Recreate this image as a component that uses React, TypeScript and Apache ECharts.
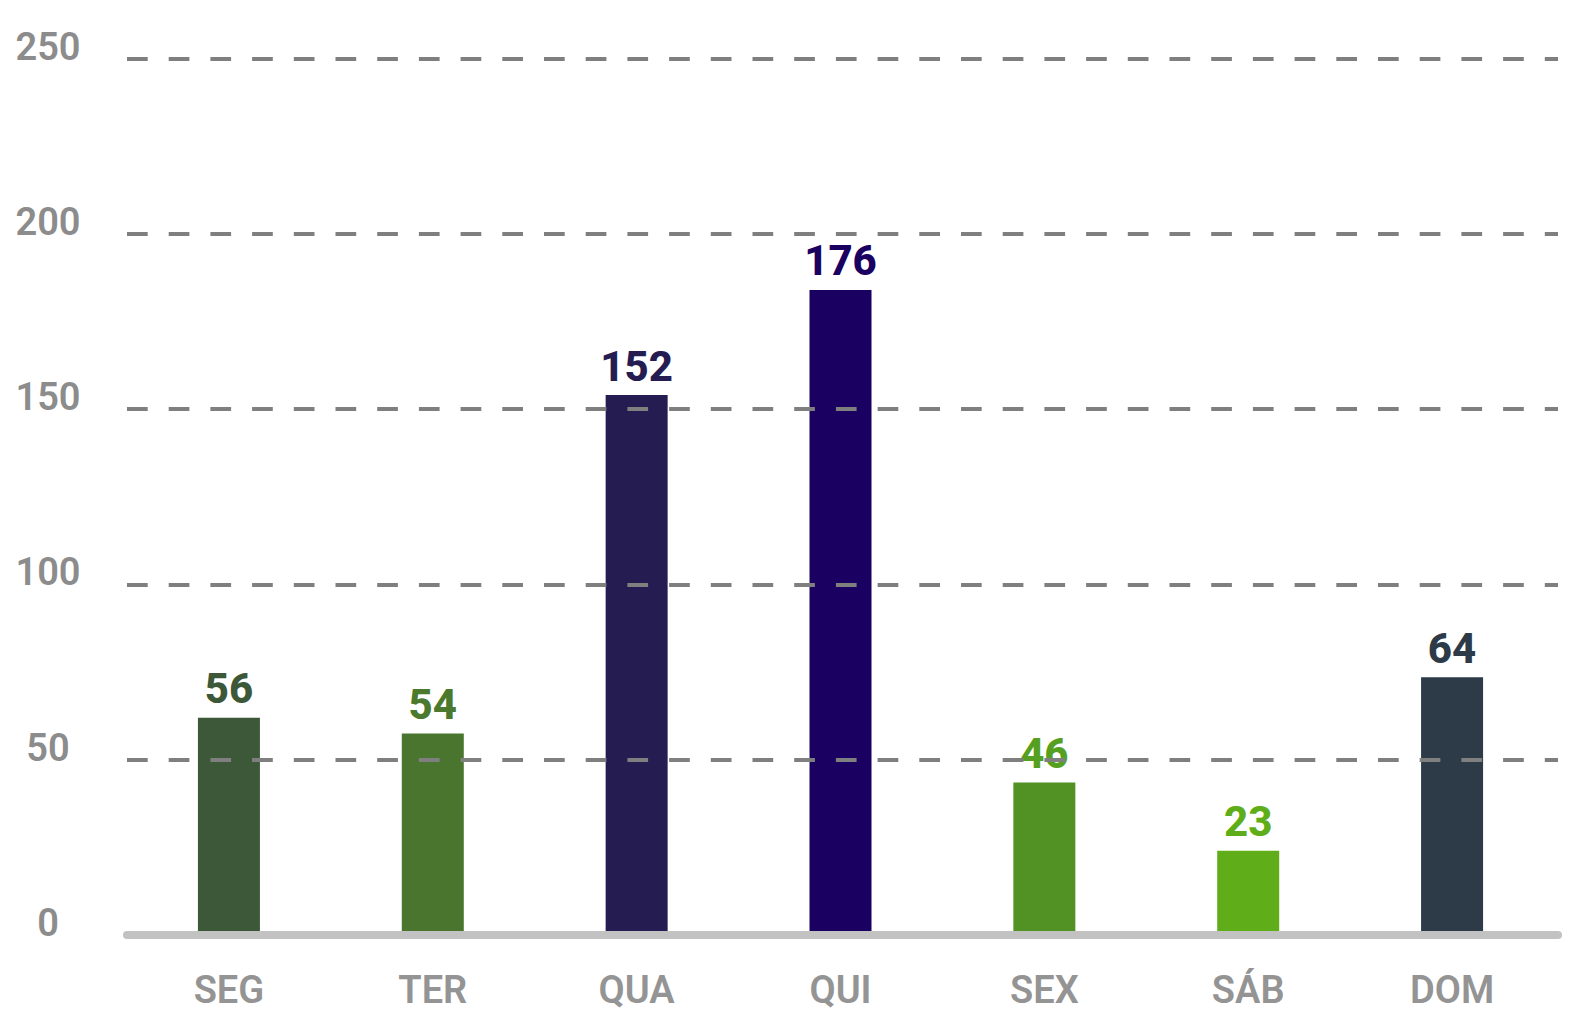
import React, { useEffect, useRef } from "react";
import * as echarts from "echarts";

const categories = ["SEG", "TER", "QUA", "QUI", "SEX", "SÁB", "DOM"];
// bar heights as drawn in the picture (axis units)
const barHeights = [62, 57.5, 154, 184, 43.5, 24, 73.5];
// numbers printed above the bars
const valueLabels = [56, 54, 152, 176, 46, 23, 64];
const barColors = ["#3c5839", "#4a752f", "#251c52", "#1a0060", "#529224", "#5fae19", "#2d3a47"];
const labelColors = ["#3c5839", "#4b7a2e", "#251c52", "#1a0060", "#55a020", "#5fae19", "#2d3a47"];
const yTicks = [0, 50, 100, 150, 200, 250];

const FONT = "Roboto, 'Open Sans', sans-serif";

export default function App() {
  const ref = useRef<HTMLDivElement>(null);
  useEffect(() => {
    document.body.style.margin = "0";
    if (!ref.current) return;
    const chart = echarts.init(ref.current, null, { renderer: "svg" });
    const yMin = yTicks[0];
    const yMax = yTicks[yTicks.length - 1];
    chart.setOption({
      animation: false,
      backgroundColor: "#ffffff",
      grid: [
        { left: 127, right: 25, top: 58.5, bottom: 92, containLabel: false },
        { left: 127, right: 29, top: 58.5, bottom: 92, containLabel: false },
      ],
      xAxis: [
        {
          type: "category",
          gridIndex: 0,
          data: categories,
          z: 4,
          axisLine: { show: true, lineStyle: { color: "#c2c2c2", width: 8, cap: "round" } },
          axisTick: { show: false },
          axisLabel: { show: false },
        },
        {
          type: "category",
          gridIndex: 1,
          data: categories,
          z: 4,
          axisLine: { show: false },
          axisTick: { show: false },
          axisLabel: {
            color: "#949494",
            fontFamily: FONT,
            fontSize: 38,
            fontWeight: 600,
            margin: 36,
          },
        },
      ],
      yAxis: [
        {
          type: "value",
          gridIndex: 0,
          min: yMin,
          max: yMax,
          interval: 50,
          z: 3,
          axisLine: { show: false },
          axisTick: { show: false },
          splitLine: {
            show: true,
            lineStyle: { color: "#7f7f7f", width: 4, type: [20.7, 21] },
          },
          axisLabel: {
            color: "#8c8c8c",
            fontFamily: FONT,
            fontSize: 38,
            fontWeight: 600,
            align: "center",
            verticalAlign: "bottom",
            lineHeight: 24,
            margin: 79,
          },
        },
        {
          type: "value",
          gridIndex: 1,
          min: yMin,
          max: yMax,
          interval: 50,
          show: false,
          splitLine: { show: false },
        },
      ],
      series: [
        {
          type: "bar",
          xAxisIndex: 1,
          yAxisIndex: 1,
          barWidth: 62,
          z: 2,
          data: barHeights.map((v, i) => ({
            value: v,
            itemStyle: { color: barColors[i] },
            label: { color: labelColors[i] },
          })),
          label: {
            show: true,
            position: "top",
            distance: 8,
            fontFamily: FONT,
            fontSize: 42,
            fontWeight: 800,
            lineHeight: 42,
            formatter: (p: any) => String(valueLabels[p.dataIndex]),
          },
        },
      ],
    });
    return () => chart.dispose();
  }, []);
  return <div ref={ref} style={{ width: 1583, height: 1027 }} />;
}
